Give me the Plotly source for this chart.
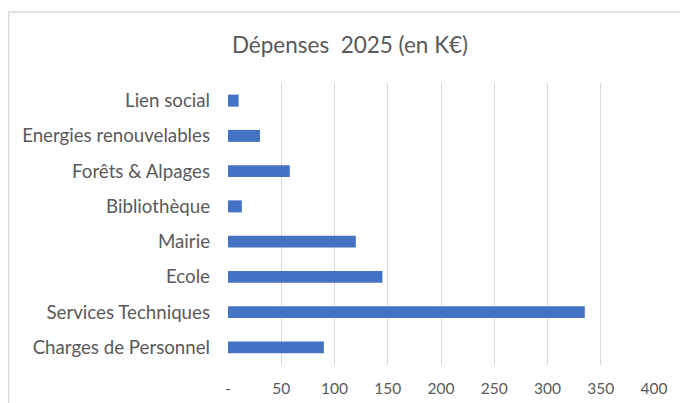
import plotly.graph_objects as go

categories = ["Charges de Personnel", "Services Techniques", "Ecole", "Mairie",
              "Bibliothèque", "Forêts & Alpages", "Energies renouvelables", "Lien social"]
values = [90, 335, 145, 120, 13, 58, 30, 10]
tick_vals = [0, 50, 100, 150, 200, 250, 300, 350, 400]
tick_text = ["-", "50", "100", "150", "200", "250", "300", "350", "400"]

FONT = "Lato"
GRAY = "#595959"

# page body has an 8px default margin, so figure coords = page coords - 8
L, T = 220, 75
PW, PH = 426.3, 282

fig = go.Figure(go.Bar(
    y=categories, x=values, orientation="h",
    marker=dict(color="#4472C4", line=dict(width=0)),
))

fig.update_layout(
    width=688, height=403,
    margin=dict(l=L, r=688 - L - PW, t=T, b=403 - T - PH, autoexpand=False),
    paper_bgcolor="white", plot_bgcolor="white",
    bargap=0.66,
    showlegend=False,
    title=dict(text="Dépenses  2025 (en K€)", x=342/688, xanchor="center",
               y=1 - 37/403, yanchor="middle",
               font=dict(family=FONT, size=22.5, color=GRAY)),
    font=dict(family=FONT, color=GRAY),
    xaxis=dict(range=[0, 400], tickvals=tick_vals, ticktext=tick_text,
               showgrid=True, gridcolor="#d9d9d9", gridwidth=1,
               zeroline=False, showline=False, ticks="", automargin=False,
               tickfont=dict(family=FONT, size=15.5, color=GRAY),
               ticklabelstandoff=12, fixedrange=True),
    yaxis=dict(showgrid=False, zeroline=False, showline=False, ticks="", automargin=False,
               tickfont=dict(family=FONT, size=18.7, color=GRAY),
               ticklabelstandoff=17, fixedrange=True),
    shapes=[dict(type="rect", xref="paper", yref="paper",
                 x0=(0.5 - L) / PW, x1=1.3,
                 y0=-0.4, y1=(T + PH - 4) / PH,
                 line=dict(color="#d9d9d9", width=1.5), layer="below")],
)

fig.write_html("out.html")
